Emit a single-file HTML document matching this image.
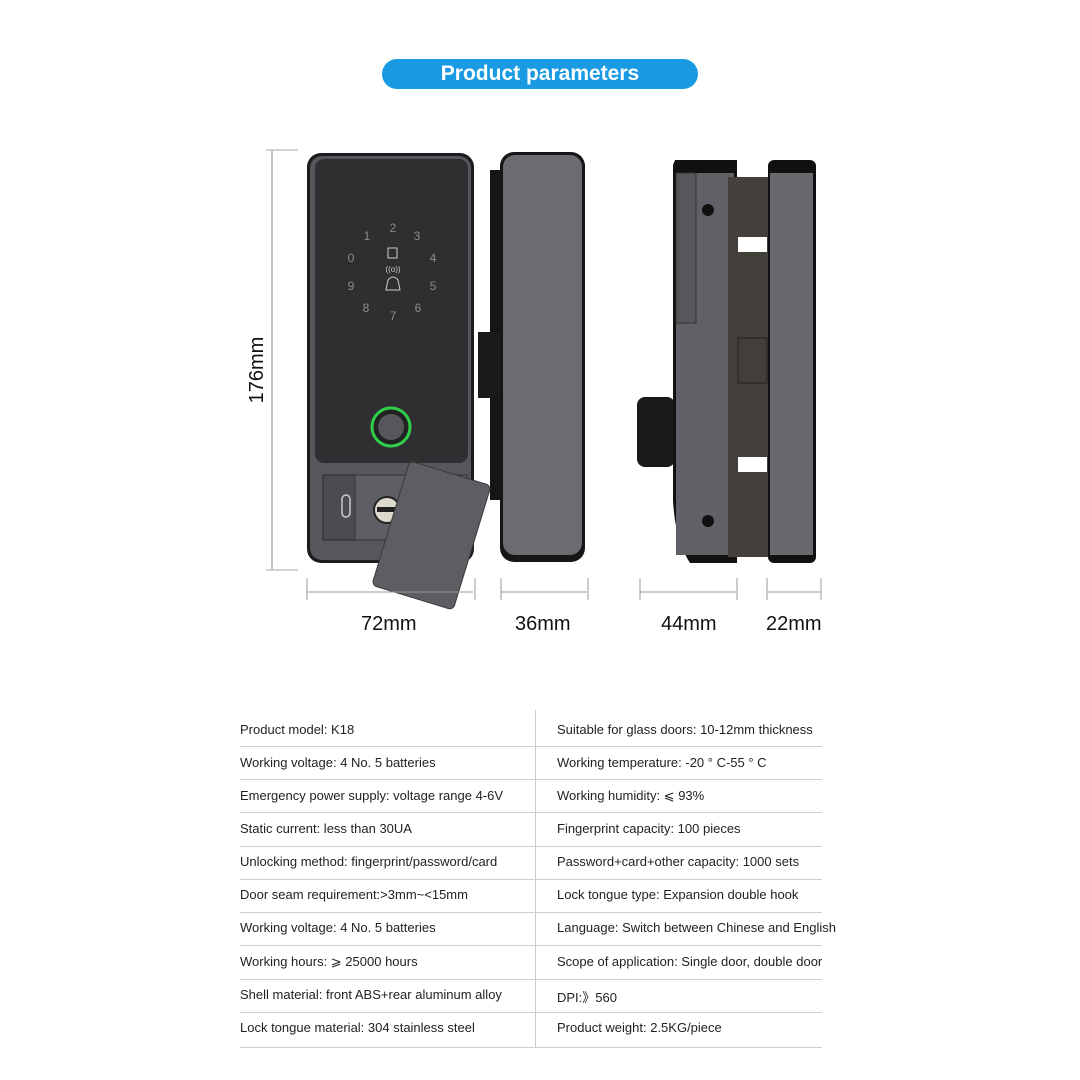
<!DOCTYPE html>
<html><head><meta charset="utf-8"><style>
body{margin:0;background:#fff;}
.w{position:relative;width:1080px;height:1080px;overflow:hidden;font-family:"Liberation Sans",sans-serif;}
.pill{position:absolute;left:382px;top:59px;width:316px;height:30px;border-radius:15px;background:#1b9ae4;color:#fff;font-weight:bold;font-size:21px;text-align:center;line-height:30px;}
.t{position:absolute;font-size:13px;color:#222;white-space:nowrap;}
.hl{position:absolute;height:1px;background:#cfcfcf;}
.dim{position:absolute;font-size:20px;color:#111;}
</style></head><body><div class="w">
<div class="pill">Product parameters</div>
<svg width="1080" height="700" style="position:absolute;left:0;top:0">
<!-- vertical dim -->
<line x1="272" y1="150" x2="272" y2="570" stroke="#888"/>
<line x1="266" y1="150" x2="298" y2="150" stroke="#aaa"/>
<line x1="266" y1="570" x2="298" y2="570" stroke="#aaa"/>
<text x="263" y="370" font-size="20" fill="#111" text-anchor="middle" transform="rotate(-90 263 370)" font-family="Liberation Sans">176mm</text>
<!-- bracket -->
<rect x="490" y="170" width="13" height="330" fill="#151515"/>
<rect x="478" y="332" width="25" height="66" fill="#1a1a1a"/>
<!-- front body -->
<rect x="307" y="153" width="167" height="410" rx="14" fill="#1c1c1e"/>
<rect x="310" y="156" width="161" height="404" rx="12" fill="#55575c"/>
<rect x="315" y="159" width="153" height="304" rx="9" fill="#2f2f31"/>
<rect x="323" y="475" width="32" height="65" fill="#4a4c50" stroke="#2a2a2a"/>
<rect x="355" y="475" width="112" height="65" fill="#5d5f64" stroke="#333"/>
<rect x="342" y="495" width="8" height="22" rx="4" fill="none" stroke="#ccc" stroke-width="1.5"/>
<circle cx="387" cy="510" r="13" fill="#ddd9cc" stroke="#222" stroke-width="2"/>
<rect x="377" y="507" width="20" height="5" fill="#222"/>
<circle cx="391" cy="427" r="20" fill="#222"/>
<circle cx="391" cy="427" r="19" fill="none" stroke="#2fcf4a" stroke-width="3"/>
<circle cx="391" cy="427" r="13" fill="#55575b"/>
<g fill="#8a8a8a" font-size="12" font-family="Liberation Sans" text-anchor="middle">
<text x="393" y="232">2</text><text x="417" y="240">3</text><text x="433" y="262">4</text><text x="433" y="290">5</text><text x="418" y="312">6</text><text x="393" y="320">7</text><text x="366" y="312">8</text><text x="351" y="290">9</text><text x="351" y="262">0</text><text x="367" y="240">1</text>
<text x="393" y="272" font-size="8" fill="#ccc">((o))</text>
</g>
<rect x="388" y="248" width="9" height="10" fill="none" stroke="#ccc"/>
<path d="M386 290 L388 280 Q393 274 398 280 L400 290 Z" fill="none" stroke="#ccc"/>
<!-- card -->
<g transform="rotate(17 430 535)"><rect x="389" y="470" width="85" height="130" rx="5" fill="#5c5e63" stroke="#3a3a3a"/></g>
<!-- handle -->
<rect x="500" y="152" width="85" height="410" rx="14" fill="#161616"/>
<rect x="503" y="155" width="79" height="400" rx="12" fill="#6a6c71"/>
<!-- side view -->
<rect x="637" y="397" width="38" height="70" rx="8" fill="#1a1a1a"/>
<path d="M675 160 L737 160 L737 563 L690 563 Q675 540 673 500 L673 165 Z" fill="#111"/>
<rect x="676" y="173" width="58" height="382" fill="#5f6166"/>
<rect x="676" y="173" width="20" height="150" fill="#55575b" stroke="#333"/>
<rect x="728" y="177" width="40" height="380" fill="#433f3b"/>
<rect x="738" y="237" width="29" height="15" fill="#fff"/>
<rect x="738" y="457" width="29" height="15" fill="#fff"/>
<rect x="738" y="338" width="29" height="45" fill="none" stroke="#222"/>
<rect x="768" y="160" width="48" height="403" rx="6" fill="#111"/>
<rect x="770" y="173" width="43" height="382" fill="#67696e"/>
<circle cx="708" cy="210" r="6" fill="#111"/><circle cx="708" cy="521" r="6" fill="#111"/>
<!-- horiz dims -->
<g stroke="#999">
<line x1="307" y1="592" x2="473" y2="592"/><line x1="307" y1="578" x2="307" y2="600"/><line x1="475" y1="578" x2="475" y2="600"/>
<line x1="501" y1="592" x2="587" y2="592"/><line x1="501" y1="578" x2="501" y2="600"/><line x1="588" y1="578" x2="588" y2="600"/>
<line x1="640" y1="592" x2="736" y2="592"/><line x1="640" y1="578" x2="640" y2="600"/><line x1="737" y1="578" x2="737" y2="600"/>
<line x1="767" y1="592" x2="820" y2="592"/><line x1="767" y1="578" x2="767" y2="600"/><line x1="821" y1="578" x2="821" y2="600"/>
</g>
</svg>
<div class="dim" style="left:361px;top:613px">72mm</div>
<div class="dim" style="left:515px;top:613px">36mm</div>
<div class="dim" style="left:661px;top:613px">44mm</div>
<div class="dim" style="left:766px;top:613px">22mm</div>
<div style="position:absolute;left:535px;top:710px;width:1px;height:338px;background:#ccc"></div>
<div class="hl" style="left:240px;top:746px;width:582px"></div>
<div class="hl" style="left:240px;top:779px;width:582px"></div>
<div class="hl" style="left:240px;top:812px;width:582px"></div>
<div class="hl" style="left:240px;top:846px;width:582px"></div>
<div class="hl" style="left:240px;top:879px;width:582px"></div>
<div class="hl" style="left:240px;top:912px;width:582px"></div>
<div class="hl" style="left:240px;top:945px;width:582px"></div>
<div class="hl" style="left:240px;top:979px;width:582px"></div>
<div class="hl" style="left:240px;top:1012px;width:582px"></div>
<div class="hl" style="left:240px;top:1047px;width:582px"></div>
<div class="t" style="left:240px;top:722px">Product model: K18</div>
<div class="t" style="left:240px;top:755px">Working voltage: 4 No. 5 batteries</div>
<div class="t" style="left:240px;top:788px">Emergency power supply: voltage range 4-6V</div>
<div class="t" style="left:240px;top:821px">Static current: less than 30UA</div>
<div class="t" style="left:240px;top:854px">Unlocking method: fingerprint/password/card</div>
<div class="t" style="left:240px;top:887px">Door seam requirement:&gt;3mm~&lt;15mm</div>
<div class="t" style="left:240px;top:920px">Working voltage: 4 No. 5 batteries</div>
<div class="t" style="left:240px;top:954px">Working hours: ⩾ 25000 hours</div>
<div class="t" style="left:240px;top:987px">Shell material: front ABS+rear aluminum alloy</div>
<div class="t" style="left:240px;top:1020px">Lock tongue material: 304 stainless steel</div>
<div class="t" style="left:557px;top:722px">Suitable for glass doors: 10-12mm thickness</div>
<div class="t" style="left:557px;top:755px">Working temperature: -20 ° C-55 ° C</div>
<div class="t" style="left:557px;top:788px">Working humidity: ⩽ 93%</div>
<div class="t" style="left:557px;top:821px">Fingerprint capacity: 100 pieces</div>
<div class="t" style="left:557px;top:854px">Password+card+other capacity: 1000 sets</div>
<div class="t" style="left:557px;top:887px">Lock tongue type: Expansion double hook</div>
<div class="t" style="left:557px;top:920px">Language: Switch between Chinese and English</div>
<div class="t" style="left:557px;top:954px">Scope of application: Single door, double door</div>
<div class="t" style="left:557px;top:987px">DPI:》560</div>
<div class="t" style="left:557px;top:1020px">Product weight: 2.5KG/piece</div>
</div></body></html>
